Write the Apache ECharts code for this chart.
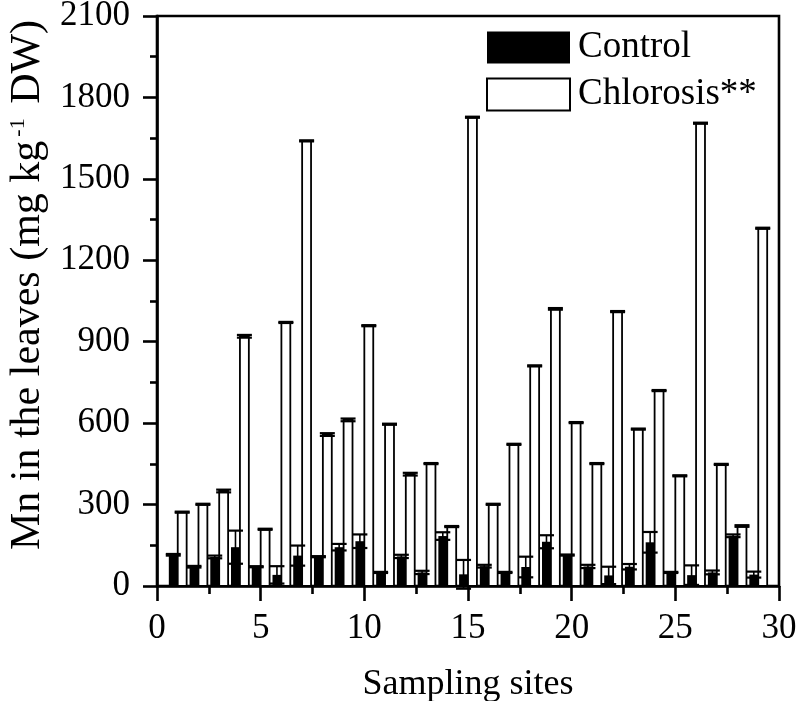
<!DOCTYPE html>
<html>
<head>
<meta charset="utf-8">
<script src="https://cdn.jsdelivr.net/npm/echarts/dist/echarts.min.js"></script>
<style>html,body{margin:0;padding:0;background:#fff}#c{width:796px;height:701px}</style>
</head>
<body>
<div id="c"></div>
<script>
// ---- data ----
const sites        = [1,2,3,4,5,6,7,8,9,10,11,12,13,14,15,16,17,18,19,20,21,22,23,24,25,26,27,28,29];
const control      = [115,71,107,143,71,41,112,108,143,165,50,109,50,184,43,73,50,70,163,114,72,39,71,161,50,40,50,185,42];
const controlErr   = [3,3,5,61,2,32,37,2,12,25,2,6,6,14,53,5,2,38,24,2,6,32,10,38,2,36,7,5,11];
const chlorosis    = [272,301,350,920,209,971,1640,558,612,959,596,412,451,219,1727,301,522,811,1021,602,451,1011,578,720,406,1705,448,221,1318];
const chlorosisErr = [2,2,5,5,2,2,2,5,5,2,2,5,2,2,2,2,2,2,3,2,2,2,2,2,2,2,2,3,2];
const xTickLabels  = [0,5,10,15,20,25,30];
const yTickLabels  = [0,300,600,900,1200,1500,1800,2100];

const FONT = "'Liberation Serif', 'Times New Roman', serif";
const BW = 0.43;      // bar width in axis units
const CAP = 7.5;      // half width of error-bar caps (px)

function makeRender(side, fill) {
  return function (params, api) {
    const x = api.value(0), v = api.value(1), e = api.value(2);
    const x0 = side < 0 ? x - BW : x;
    const x1 = side < 0 ? x : x + BW;
    const pA = api.coord([x0, v]);
    const pB = api.coord([x1, 0]);
    const cx = (pA[0] + pB[0]) / 2;
    const top = api.coord([x, v + e])[1];
    const bot = api.coord([x, Math.max(v - e, -100)])[1];
    const children = [
      { type: 'rect',
        shape: { x: pA[0], y: pA[1], width: pB[0] - pA[0], height: pB[1] - pA[1] },
        style: fill === '#fff' ? { fill: '#fff', stroke: '#000', lineWidth: 1.8 } : { fill: '#000' } },
      { type: 'line', shape: { x1: cx, y1: top, x2: cx, y2: bot }, style: { stroke: '#000', lineWidth: 1.6 } },
      { type: 'line', shape: { x1: cx - CAP, y1: top, x2: cx + CAP, y2: top }, style: { stroke: '#000', lineWidth: 2.2 } },
      { type: 'line', shape: { x1: cx - CAP, y1: bot, x2: cx + CAP, y2: bot }, style: { stroke: '#000', lineWidth: 2.2 } }
    ];
    return { type: 'group', children: children };
  };
}

const chart = echarts.init(document.getElementById('c'), null, { renderer: 'canvas' });
chart.setOption({
  animation: false,
  backgroundColor: '#fff',
  textStyle: { fontFamily: FONT, color: '#000' },
  grid: { left: 157, right: 17, top: 16, bottom: 115, containLabel: false, outerBoundsMode: 'none',
    show: true, borderColor: '#000', borderWidth: 2.6, backgroundColor: 'transparent' },
  legend: {
    orient: 'vertical', left: 481, top: 24,
    itemWidth: 83, itemHeight: 32, itemGap: 10,
    selectedMode: false,
    textStyle: { fontFamily: FONT, fontSize: 37, color: '#000', lineHeight: 20, padding: [0, 0, 12, 3] },
    data: [
      { name: 'Control', icon: 'rect', itemStyle: { color: '#000', borderWidth: 0 } },
      { name: 'Chlorosis**', icon: 'rect', itemStyle: { color: '#fff', borderColor: '#000', borderWidth: 2 } }
    ]
  },
  xAxis: {
    type: 'value', min: 0, max: 30, interval: 5,
    name: 'Sampling sites', nameLocation: 'middle', nameGap: 81,
    nameTextStyle: { fontFamily: FONT, fontSize: 36, color: '#000' },
    axisLine: { show: true, lineStyle: { color: '#000', width: 2.6 } },
    axisTick: { show: true, inside: false, length: 15, lineStyle: { color: '#000', width: 2.6 } },
    minorTick: { show: true, splitNumber: 2, length: 8, lineStyle: { color: '#000', width: 2.6 } },
    splitLine: { show: false },
    axisLabel: { fontFamily: FONT, fontSize: 35, color: '#000', margin: 25,
      formatter: function (val) { return xTickLabels.indexOf(val) >= 0 ? String(val) : ''; } }
  },
  yAxis: {
    type: 'value', min: 0, max: 2100, interval: 300,
    name: 'Mn in the leaves (mg kg{sup|-1} DW)', nameLocation: 'middle', nameGap: 108, nameRotate: 90,
    nameTextStyle: { fontFamily: FONT, fontSize: 42, color: '#000', lineHeight: 42, padding: [0, 0, 0, 32],
      rich: { sup: { fontFamily: FONT, fontSize: 22, color: '#000', lineHeight: 22, verticalAlign: 'top', padding: [0, 4, 0, 4] } } },
    axisLine: { show: true, lineStyle: { color: '#000', width: 2.6 } },
    axisTick: { show: true, inside: false, length: 14, lineStyle: { color: '#000', width: 2.6 } },
    minorTick: { show: true, splitNumber: 2, length: 7, lineStyle: { color: '#000', width: 2.6 } },
    splitLine: { show: false },
    axisLabel: { fontFamily: FONT, fontSize: 35, color: '#000', margin: 27,
      formatter: function (val) { return yTickLabels.indexOf(val) >= 0 ? String(val) : ''; } }
  },
  series: [
    { name: 'Chlorosis**', type: 'custom', renderItem: makeRender(1, '#fff'),
      itemStyle: { color: '#fff', borderColor: '#000' },
      encode: { x: 0, y: 1 },
      data: sites.map((s, i) => [s, chlorosis[i], chlorosisErr[i]]) },
    { name: 'Control', type: 'custom', renderItem: makeRender(-1, '#000'),
      itemStyle: { color: '#000' },
      encode: { x: 0, y: 1 },
      data: sites.map((s, i) => [s, control[i], controlErr[i]]) }
  ]
});
</script>
</body>
</html>
